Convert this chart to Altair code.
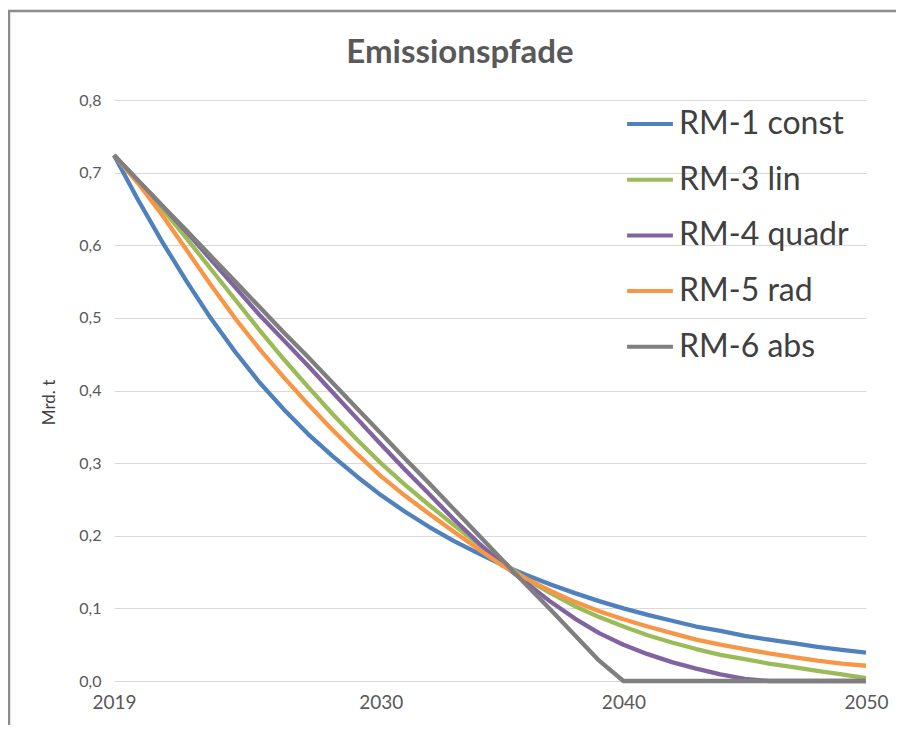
import altair as alt
import pandas as pd

years = list(range(2019, 2051))
series_names = ["RM-1 const", "RM-3 lin", "RM-4 quadr", "RM-5 rad", "RM-6 abs"]
series_colors = ["#4F81BD", "#9BBB59", "#8064A2", "#F79646", "#7F7F7F"]

rm1_const = [0.724, 0.662, 0.604, 0.550, 0.499, 0.453, 0.411, 0.374, 0.340, 0.310,
             0.282, 0.256, 0.233, 0.212, 0.193, 0.176, 0.160, 0.146, 0.133, 0.121,
             0.110, 0.100, 0.091, 0.083, 0.075, 0.069, 0.062, 0.057, 0.052, 0.047,
             0.043, 0.039]
rm3_lin = [0.724, 0.688, 0.650, 0.609, 0.567, 0.525, 0.483, 0.443, 0.405, 0.368,
           0.333, 0.300, 0.270, 0.242, 0.215, 0.189, 0.164, 0.140, 0.121, 0.103,
           0.088, 0.075, 0.063, 0.053, 0.044, 0.036, 0.030, 0.024, 0.019, 0.014,
           0.009, 0.004]
rm4_quadr = [0.724, 0.689, 0.654, 0.618, 0.580, 0.542, 0.504, 0.469, 0.434, 0.398,
             0.362, 0.326, 0.291, 0.257, 0.223, 0.191, 0.161, 0.135, 0.109, 0.086,
             0.066, 0.050, 0.037, 0.026, 0.017, 0.009, 0.003, 0.0, 0.0, 0.0,
             0.0, 0.0]
rm5_rad = [0.724, 0.685, 0.641, 0.593, 0.545, 0.499, 0.457, 0.418, 0.381, 0.346,
           0.313, 0.282, 0.255, 0.230, 0.206, 0.182, 0.159, 0.141, 0.124, 0.109,
           0.096, 0.085, 0.075, 0.066, 0.057, 0.050, 0.044, 0.038, 0.033, 0.028,
           0.024, 0.021]
rm6_abs = [0.724, 0.689, 0.654, 0.620, 0.585, 0.550, 0.515, 0.480, 0.446, 0.411,
           0.376, 0.341, 0.306, 0.272, 0.237, 0.202, 0.167, 0.132, 0.098, 0.063,
           0.028, 0.0, 0.0, 0.0, 0.0, 0.0, 0.0, 0.0, 0.0, 0.0,
           0.0, 0.0]

x_ticks = [2019, 2030, 2040, 2050]
y_ticks = [0.0, 0.1, 0.2, 0.3, 0.4, 0.5, 0.6, 0.7, 0.8]

rows = []
for name, vals in zip(series_names, [rm1_const, rm3_lin, rm4_quadr, rm5_rad, rm6_abs]):
    for yr, v in zip(years, vals):
        rows.append({"Jahr": yr, "Wert": v, "Pfad": name})
df = pd.DataFrame(rows)

FONT = "Lato"
TXT = "#595959"

lines = alt.Chart(df).mark_line(strokeWidth=4.3, strokeJoin="round").encode(
    x=alt.X(
        "Jahr:Q",
        scale=alt.Scale(domain=[2019, 2050], nice=False, zero=False),
        axis=alt.Axis(values=x_ticks, format="d", title=None, grid=False, ticks=False,
                      domain=False, labelFontSize=19, labelColor=TXT, labelFont=FONT,
                      labelPadding=12, labelFlush=False),
    ),
    y=alt.Y(
        "Wert:Q",
        scale=alt.Scale(domain=[0, 0.8], nice=False),
        axis=alt.Axis(values=y_ticks,
                      labelExpr="replace(format(datum.value, '.1f'), '.', ',')",
                      title="Mrd. t", titleFont=FONT, titleFontSize=17,
                      titleFontWeight="normal", titleColor="#404040",
                      titleX=-56, titleY=302, titleAngle=270,
                      grid=True, gridColor="#D9D9D9", gridWidth=1,
                      ticks=False, domain=False, labelFontSize=16, labelColor=TXT,
                      labelFont=FONT, labelPadding=13),
    ),
    color=alt.Color(
        "Pfad:N",
        scale=alt.Scale(domain=series_names, range=series_colors),
        legend=alt.Legend(orient="none", legendX=511, legendY=-1, title=None,
                          symbolType="stroke", symbolStrokeWidth=4, symbolSize=2100,
                          labelFont=FONT, labelFontSize=32, labelColor="#404040",
                          labelOffset=4, rowPadding=14.7, labelLimit=400),
    ),
)

frame_df = pd.DataFrame({"k": [0]})
top_rule = alt.Chart(frame_df).mark_rule(color="#8C8C8C", strokeWidth=2.5).encode(
    x=alt.value(-106), x2=alt.value(800), y=alt.value(-89))
left_rule = alt.Chart(frame_df).mark_rule(color="#8C8C8C", strokeWidth=2.5).encode(
    x=alt.value(-105), y=alt.value(-90), y2=alt.value(650))

chart = alt.layer(top_rule, left_rule, lines).properties(
    width=752,
    height=581,
    title=alt.TitleParams("Emissionspfade", font=FONT, fontSize=33, fontWeight="bold",
                          color=TXT, anchor="middle", dx=-30, offset=-61),
    autosize=alt.AutoSizeParams(type="none"),
    padding={"left": 106, "top": 92, "right": 30, "bottom": 44},
).configure_view(stroke=None)

chart.save("out.html", embed_options={"renderer": "svg", "actions": False})
